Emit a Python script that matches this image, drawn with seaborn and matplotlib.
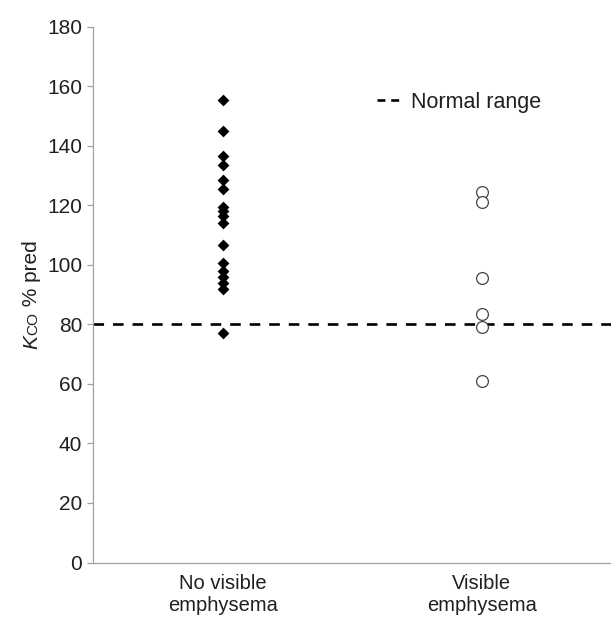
import matplotlib
matplotlib.use("Agg")
import matplotlib.pyplot as plt
import seaborn as sns
import pandas as pd
from matplotlib.lines import Line2D

categories = ["No visible\nemphysema", "Visible\nemphysema"]
no_emph_values = [155.5, 145, 136.5, 133.5, 128.5, 125.5, 119.5, 118, 116.5, 114,
                  106.5, 100.5, 98, 96, 94, 92, 77]
emph_values = [124.5, 121, 95.5, 83.5, 79, 61]
normal_limit = 80
y_ticks = [0, 20, 40, 60, 80, 100, 120, 140, 160, 180]

sns.set_theme(style="white")
plt.rcParams["font.family"] = ["Liberation Sans", "DejaVu Sans"]

TEXT = "#231f20"
FS = 15

df_a = pd.DataFrame({"group": categories[0], "value": no_emph_values})
df_b = pd.DataFrame({"group": categories[1], "value": emph_values})

W, H = 611, 618
fig = plt.figure(figsize=(W / 100, H / 100), dpi=100)
ax = fig.add_axes([0.1527, 0.0898, 0.8473, 0.867])

sns.stripplot(data=df_a, x="group", y="value", order=categories, jitter=False,
              marker="D", size=6, color="black", linewidth=0, ax=ax, zorder=3)
sns.stripplot(data=df_b, x="group", y="value", order=categories, jitter=False,
              marker="o", size=8.5, color="white", edgecolor="#444444",
              linewidth=0.9, ax=ax, zorder=3)

ax.axhline(normal_limit, color="black", lw=1.9, dashes=(4, 3.4), zorder=2)

ax.set_xlim(-0.5, 1.5)
ax.set_ylim(0, 180)
ax.set_yticks(y_ticks)
ax.set_xlabel("")
ax.set_ylabel("")

for side in ["top", "right"]:
    ax.spines[side].set_visible(False)
for side in ["left", "bottom"]:
    ax.spines[side].set_color("#a0a0a0")
    ax.spines[side].set_linewidth(0.9)

ax.tick_params(axis="y", which="both", left=True, length=4.3, width=0.9,
               color="#a0a0a0", labelsize=FS, labelcolor=TEXT, pad=3.6)
ax.tick_params(axis="x", bottom=False, labelsize=14.5, labelcolor=TEXT, pad=2.5)
for lbl in ax.get_xticklabels():
    lbl.set_linespacing(1.2)

handle = Line2D([0], [0], color="black", lw=1.9, dashes=(3.0, 2.2))
ax.legend([handle], ["Normal range"], loc="center left",
          bbox_to_anchor=(0.548, 0.859), frameon=False, fontsize=15.5,
          handlelength=1.25, handletextpad=0.35, borderpad=0, borderaxespad=0,
          labelcolor=TEXT)

# y-axis label: italic K, small-caps CO, then "% pred"
pieces = [("K", FS, "italic"), ("CO", FS * 0.74, "normal"), (" % pred", FS, "normal")]
texts = [fig.text(0, 0, s, rotation=90, rotation_mode="anchor", ha="left",
                  va="baseline", fontsize=size, fontstyle=style, color=TEXT)
         for s, size, style in pieces]
fig.canvas.draw()
r = fig.canvas.get_renderer()
lengths = [t.get_window_extent(r).height for t in texts]
x_base = 37.0
y_pos = (H - 295.0) - sum(lengths) / 2
for t, L in zip(texts, lengths):
    t.set_position((x_base / W, y_pos / H))
    y_pos += L

fig.savefig("out.png", dpi=100)
